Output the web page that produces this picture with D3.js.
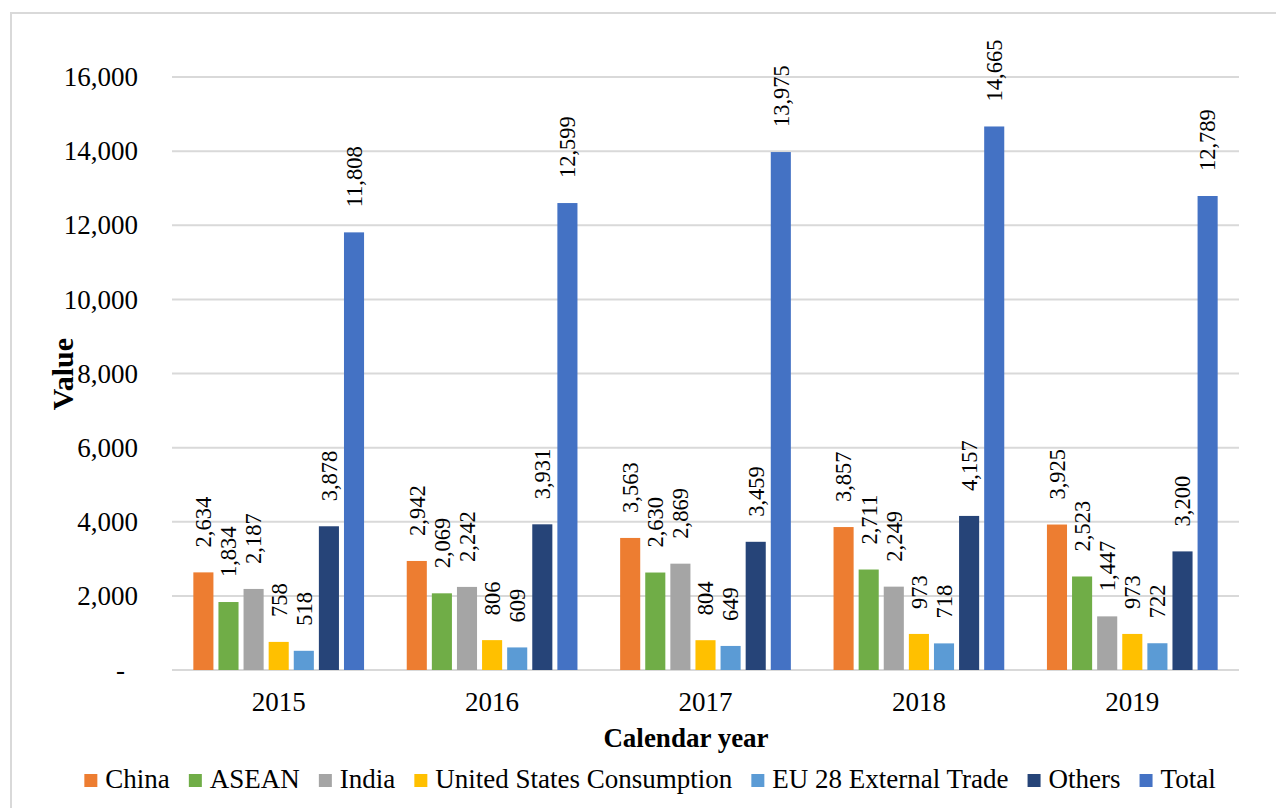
<!DOCTYPE html>
<html>
<head>
<meta charset="utf-8">
<script src="https://cdn.jsdelivr.net/npm/d3@7/dist/d3.min.js"></script>
<style>
  body { margin: 0; background: #ffffff; }
  svg { display: block; }
  text { font-family: "Liberation Serif", serif; }
</style>
</head>
<body>
<svg id="chart" width="1276" height="808"></svg>
<script>
// Grouped bars by calendar year, one bar per market plus the total.

const years = ["2015", "2016", "2017", "2018", "2019"];
const seriesNames = ["China", "ASEAN", "India", "United States Consumption", "EU 28 External Trade", "Others", "Total"];
const seriesColors = ["#ed7d31", "#70ad47", "#a5a5a5", "#ffc000", "#5b9bd5", "#264478", "#4472c4"];

const china  = [2634, 2942, 3563, 3857, 3925];
const asean  = [1834, 2069, 2630, 2711, 2523];
const india  = [2187, 2242, 2869, 2249, 1447];
const usCons = [758, 806, 804, 973, 973];
const eu28   = [518, 609, 649, 718, 722];
const others = [3878, 3931, 3459, 4157, 3200];
const total  = [11808, 12599, 13975, 14665, 12789];

const yTicks = [0, 2000, 4000, 6000, 8000, 10000, 12000, 14000, 16000];

const seriesValues = [china, asean, india, usCons, eu28, others, total];

const FONT = "Liberation Serif";

function drawChart() {
  const svg = d3.select("#chart");

  // light frame of the chart area (cropped on the right and bottom)
  svg.append("rect")
    .attr("x", 11).attr("y", 13)
    .attr("width", 1300).attr("height", 820)
    .attr("fill", "none")
    .attr("stroke", "#d9d9d9")
    .attr("stroke-width", 2);

  const plot = { left: 172, right: 1239, top: 77, bottom: 670 };

  const x0 = d3.scaleBand()
    .domain(years)
    .range([plot.left, plot.right])
    .paddingInner(0.2)
    .paddingOuter(0.1);

  const x1 = d3.scaleBand()
    .domain(seriesNames)
    .range([0, x0.bandwidth()])
    .paddingInner(0.2);

  const y = d3.scaleLinear()
    .domain([0, 16000])
    .range([plot.bottom, plot.top]);

  const color = d3.scaleOrdinal().domain(seriesNames).range(seriesColors);

  // gridlines
  svg.append("g")
    .selectAll("line")
    .data(yTicks)
    .join("line")
    .attr("x1", plot.left)
    .attr("x2", plot.right)
    .attr("y1", d => y(d))
    .attr("y2", d => y(d))
    .attr("stroke", "#d9d9d9")
    .attr("stroke-width", 2);

  // y axis labels
  const yAxis = d3.axisLeft(y)
    .tickValues(yTicks)
    .tickSize(0)
    .tickPadding(34)
    .tickFormat(d => d === 0 ? "-" : d3.format(",")(d));

  const yg = svg.append("g")
    .attr("transform", `translate(${plot.left},0)`)
    .call(yAxis)
    .attr("font-family", FONT);
  yg.select(".domain").remove();
  yg.selectAll("text")
    .attr("font-size", 27)
    .attr("fill", "#000")
    .attr("dx", d => d === 0 ? -13 : 0);

  // x axis labels
  const xAxis = d3.axisBottom(x0).tickSize(0).tickPadding(22);
  const xg = svg.append("g")
    .attr("transform", `translate(0,${plot.bottom})`)
    .call(xAxis)
    .attr("font-family", FONT);
  xg.select(".domain").remove();
  xg.selectAll("text")
    .attr("font-size", 27)
    .attr("fill", "#000");

  // flatten into one row per bar
  const bars = [];
  years.forEach((yr, i) => {
    seriesNames.forEach((s, j) => {
      bars.push({ year: yr, series: s, value: seriesValues[j][i] });
    });
  });

  const groups = svg.append("g").attr("font-family", FONT);

  groups.selectAll("rect")
    .data(bars)
    .join("rect")
    .attr("x", d => x0(d.year) + x1(d.series))
    .attr("y", d => y(d.value))
    .attr("width", x1.bandwidth())
    .attr("height", d => y(0) - y(d.value))
    .attr("fill", d => color(d.series));

  groups.selectAll("text")
    .data(bars)
    .join("text")
    .attr("transform", d => {
      const cx = x0(d.year) + x1(d.series) + x1.bandwidth() / 2;
      return `translate(${cx},${y(d.value) - 25}) rotate(-90)`;
    })
    .attr("dy", "0.35em")
    .attr("text-anchor", "start")
    .attr("font-size", 22.5)
    .attr("fill", "#000")
    .text(d => d3.format(",")(d.value));

  // axis titles
  svg.append("text")
    .attr("transform", "translate(62,374) rotate(-90)")
    .attr("dy", "0.35em")
    .attr("text-anchor", "middle")
    .attr("font-size", 30)
    .attr("font-weight", "bold")
    .attr("fill", "#000")
    .text("Value");

  svg.append("text")
    .attr("x", 686)
    .attr("y", 747)
    .attr("text-anchor", "middle")
    .attr("font-size", 27)
    .attr("font-weight", "bold")
    .attr("fill", "#000")
    .text("Calendar year");

  // legend
  const legend = svg.append("g").attr("font-family", FONT);
  const items = legend.selectAll("g")
    .data(seriesNames)
    .join("g");

  items.append("rect")
    .attr("width", 13)
    .attr("height", 13)
    .attr("y", 774)
    .attr("fill", d => color(d));

  items.append("text")
    .attr("x", 21)
    .attr("y", 788)
    .attr("font-size", 27)
    .attr("fill", "#000")
    .text(d => d);

  const gap = 19;
  let pos = 0;
  const offsets = [];
  items.each(function() {
    offsets.push(pos);
    const w = d3.select(this).select("text").node().getComputedTextLength();
    pos += 21 + w + gap;
  });
  const legendWidth = pos - gap;
  const startX = 650 - legendWidth / 2;
  items.attr("transform", (d, i) => `translate(${startX + offsets[i]},0)`);
}

drawChart();
</script>
</body>
</html>
